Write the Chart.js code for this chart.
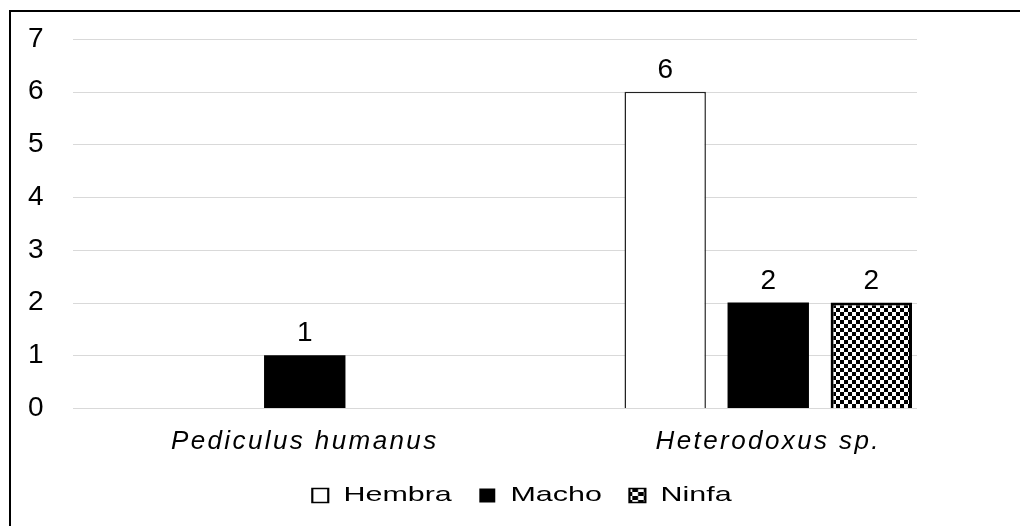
<!DOCTYPE html>
<html>
<head>
<meta charset="utf-8">
<script src="https://cdn.jsdelivr.net/npm/chart.js@4.4.0/dist/chart.umd.min.js"></script>
<style>
  html, body { margin: 0; padding: 0; background: #fff; }
  #wrap { position: relative; width: 1020px; height: 526px; }
</style>
</head>
<body>
<div id="wrap"><canvas id="chart" width="1020" height="526"></canvas></div>
<script>
// Données du graphique
const categories = ['Pediculus humanus', 'Heterodoxus sp.'];
const seriesNames = ['Hembra', 'Macho', 'Ninfa'];
const hembra = [0, 6];
const macho = [1, 2];
const ninfa = [0, 2];
const yTicks = [0, 1, 2, 3, 4, 5, 6, 7];

const FONT = '"Liberation Sans", Arial, sans-serif';
const LEGEND_STRETCH = 1.45;   // le texte de la légende est étiré horizontalement
const LEGEND_CENTER = 522;
const GRID_RIGHT = 917;

// Motif damier pour "Ninfa"
function createChecker() {
    const c = document.createElement('canvas');
    c.width = 8;
    c.height = 8;
    const g = c.getContext('2d');
    g.fillStyle = '#fff';
    g.fillRect(0, 0, 8, 8);
    g.fillStyle = '#000';
    g.fillRect(0, 0, 4, 4);
    g.fillRect(4, 4, 4, 4);
    return g.createPattern(c, 'repeat');
}
const checker = createChecker();

// Cadre, grille partielle, étiquettes de valeurs et légende étirée
const decorPlugin = {
    id: 'decor',
    beforeDraw(chart) {
        const ctx = chart.ctx;
        ctx.save();
        ctx.fillStyle = '#fff';
        ctx.fillRect(0, 0, chart.width, chart.height);
        ctx.fillStyle = '#000';
        ctx.fillRect(9, 10, 2, chart.height - 10);
        ctx.fillRect(9, 10, chart.width - 9, 2);
        ctx.restore();
        ctx.letterSpacing = '2.4px';
    },
    beforeDatasetsDraw(chart) {
        const ctx = chart.ctx;
        ctx.letterSpacing = '0px';
        const y = chart.scales.y;
        const left = chart.chartArea.left;
        ctx.save();
        ctx.strokeStyle = '#d9d9d9';
        ctx.lineWidth = 1;
        yTicks.forEach(v => {
            const py = Math.round(y.getPixelForValue(v)) + 0.5;
            ctx.beginPath();
            ctx.moveTo(left, py);
            ctx.lineTo(GRID_RIGHT, py);
            ctx.stroke();
        });
        ctx.restore();
    },
    afterDatasetsDraw(chart) {
        const ctx = chart.ctx;
        ctx.save();
        ctx.fillStyle = '#000';
        ctx.font = '28px ' + FONT;
        ctx.textAlign = 'center';
        ctx.textBaseline = 'alphabetic';
        chart.data.datasets.forEach((ds, i) => {
            chart.getDatasetMeta(i).data.forEach((bar, j) => {
                const v = ds.data[j];
                if (!v) return;
                ctx.fillText(String(v), bar.x, bar.y - 14);
            });
        });
        ctx.restore();

        // la légende (z: 1) est dessinée ensuite, avec un étirement horizontal
        const lg = chart.legend;
        const cx = lg.left + lg.width / 2;
        ctx.save();
        ctx.translate(LEGEND_CENTER, 0);
        ctx.scale(LEGEND_STRETCH, 1);
        ctx.translate(-cx, 0);
    },
    afterDraw(chart) {
        chart.ctx.restore();
    }
};

const common = {
    categoryPercentage: 0.667,
    barPercentage: 0.79
};

const chart = new Chart(document.getElementById('chart'), {
    type: 'bar',
    data: {
        labels: categories,
        datasets: [
            Object.assign({
                label: seriesNames[0],
                data: hembra,
                backgroundColor: '#ffffff',
                borderColor: '#222222',
                borderWidth: 1.5
            }, common),
            Object.assign({
                label: seriesNames[1],
                data: macho,
                backgroundColor: '#000000',
                borderColor: '#000000',
                borderWidth: 0
            }, common),
            Object.assign({
                label: seriesNames[2],
                data: ninfa,
                backgroundColor: checker,
                borderColor: '#000000',
                borderWidth: 3
            }, common)
        ]
    },
    options: {
        responsive: false,
        animation: false,
        layout: {
            padding: { top: 39, right: 20, left: 0, bottom: 10 }
        },
        plugins: {
            legend: {
                position: 'bottom',
                labels: {
                    color: '#000',
                    font: { family: FONT, size: 21 },
                    boxWidth: 11,
                    boxHeight: 14,
                    padding: 19,
                    generateLabels(chart) {
                        return chart.data.datasets.map((ds, i) => ({
                            text: ds.label,
                            fillStyle: ds.backgroundColor,
                            strokeStyle: '#000',
                            lineWidth: i === 1 ? 0 : 1.5,
                            fontColor: '#000',
                            datasetIndex: i
                        }));
                    }
                }
            },
            tooltip: { enabled: false }
        },
        scales: {
            y: {
                min: 0,
                max: 7,
                afterFit(scale) { scale.width = 73; },
                afterBuildTicks(scale) {
                    scale.ticks = yTicks.map(v => ({ value: v }));
                },
                ticks: {
                    color: '#000',
                    padding: 19,
                    font: { family: FONT, size: 28 }
                },
                grid: { display: false },
                border: { display: false }
            },
            x: {
                afterFit(scale) { scale.height = 58; },
                ticks: {
                    color: '#000',
                    padding: 10,
                    maxRotation: 0,
                    font: { family: FONT, size: 26, style: 'italic' }
                },
                grid: { display: false },
                border: { display: false }
            }
        }
    },
    plugins: [decorPlugin]
});

// La légende passe au-dessus (z: 1) pour être dessinée après les barres
chart.legend._layers = () => [{ z: 1, draw(area) { chart.legend.draw(area); } }];
chart.update();
</script>
</body>
</html>
